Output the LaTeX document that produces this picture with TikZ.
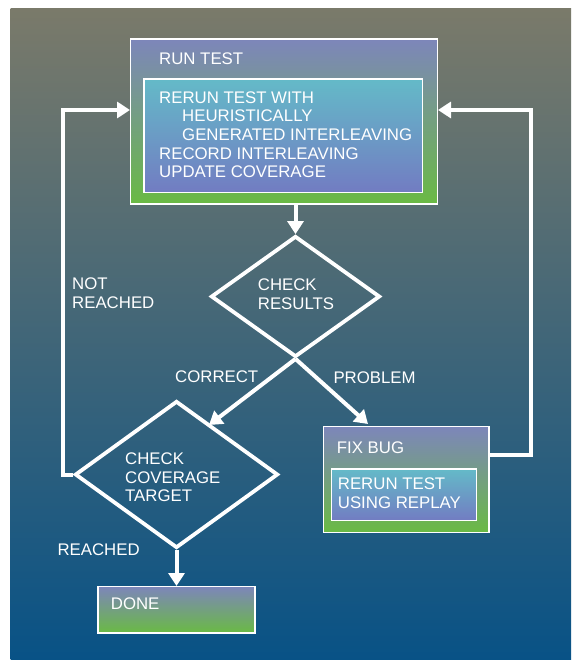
\documentclass[tikz,border=0pt]{standalone}
\usepackage{fontspec}
\setmainfont{Liberation Sans}
\usetikzlibrary{arrows.meta,shapes.geometric}
\definecolor{bgtop}{RGB}{122,122,106}
\definecolor{bgbot}{RGB}{8,82,134}
\definecolor{boxtop}{RGB}{125,134,186}
\definecolor{boxbot}{RGB}{106,186,68}
\definecolor{intop}{RGB}{100,186,200}
\definecolor{inbot}{RGB}{114,124,194}
\begin{document}
\begin{tikzpicture}[x=1pt,y=-1pt,
  txt/.style={text=white, font=\fontsize{16.8}{18.6}\selectfont, inner sep=0pt, align=left, anchor=base west},
  outerbox/.style={draw=white, line width=1.3pt, top color=boxtop, bottom color=boxbot, inner sep=0pt, anchor=north west},
  innerbox/.style={draw=white, line width=1.3pt, top color=intop, bottom color=inbot, inner sep=0pt, anchor=north west},
  dia/.style={diamond, draw=white, line width=3.8pt, inner sep=0pt},
  conn/.style={draw=white, line width=4pt},
  arr/.style={conn, -{Triangle[length=13pt,width=16pt]}},
]
\useasboundingbox (0,0) rectangle (571,660);
\fill[white] (0,0) rectangle (571,660);
\shade[top color=bgtop, bottom color=bgbot] (10.7,9) rectangle (571,660);

% Run test
\node[outerbox, minimum width=306.7pt, minimum height=165pt] (rt) at (130,38.3) {};
\node[innerbox, minimum width=278.4pt, minimum height=113.4pt] (rti) at (143.3,78.3) {};
\node[txt] (rtt) at (159,65) {RUN TEST};
\node[txt] (rtit) at (159,177.7) {RERUN TEST WITH\\\hspace*{23pt}HEURISTICALLY\\\hspace*{23pt}GENERATED INTERLEAVING\\RECORD INTERLEAVING\\UPDATE COVERAGE};

% Check results
\node[dia, minimum width=169pt, minimum height=121pt] (cr) at (295.5,296.5) {};
\node[txt] (crt) at (257.7,309) {CHECK\\RESULTS};

% Check coverage
\node[dia, minimum width=203pt, minimum height=147pt] (cc) at (176.5,474.5) {};
\node[txt] (cct) at (125,501.7) {CHECK\\COVERAGE\\TARGET};

% Fix bug
\node[outerbox, minimum width=165.6pt, minimum height=105.7pt] (fb) at (322.7,426) {};
\node[innerbox, minimum width=145pt, minimum height=51.7pt] (fbi) at (330.7,468.3) {};
\node[txt] (fbt) at (336.7,453.3) {FIX BUG};
\node[txt] (fbit) at (337.7,508.3) {RERUN TEST\\USING REPLAY};

% Done
\node[outerbox, minimum width=157pt, minimum height=46.3pt] (dn) at (97.3,586) {};
\node[txt] (dnt) at (110.7,609.3) {DONE};

% Labels
\node[txt] (lnr) at (72,308) {NOT\\REACHED};
\node[txt] (lco) at (175,382) {CORRECT};
\node[txt] (lpr) at (333.3,383) {PROBLEM};
\node[txt] (lre) at (57.3,555) {REACHED};

% Connectors
\draw[arr] (cr.north |- rt.south) -- (cr.north);
\draw[arr] (cc.south) -- (dn.north -| cc.south);
\coordinate (nr) at (63,110);
\draw[arr] (cc.west) -| (nr) -- (nr -| rt.west);
\coordinate (lp) at (531,454.5);
\coordinate (lq) at (531,110);
\draw[arr] (lp -| fb.east) -- (lp) -- (lq) -- (lq -| rt.east);
\coordinate (tipP) at (368,424);
\coordinate (tipC) at (209,425);
\draw[arr] (cr.south) -- (tipP);
\draw[arr] (cr.south) -- (tipC);
\end{tikzpicture}
\end{document}
